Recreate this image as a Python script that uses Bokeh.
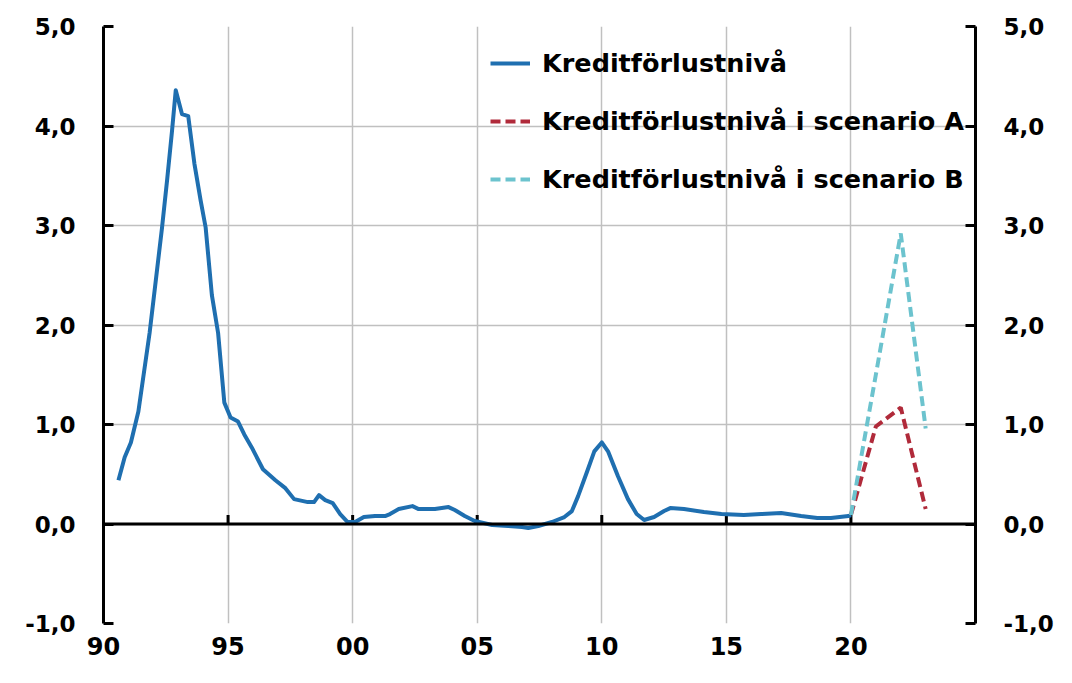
from bokeh.plotting import figure
from bokeh.models import LinearAxis, FixedTicker, Span, Legend, LegendItem, Range1d
from bokeh.embed import file_html
from bokeh.resources import INLINE

# ---- data ----
years = [1990.6, 1990.85, 1991.1, 1991.4, 1991.85, 1992.1, 1992.35, 1992.55, 1992.75, 1992.9,
         1993.15, 1993.4, 1993.65, 1993.9, 1994.1, 1994.35, 1994.6, 1994.85, 1995.1, 1995.4,
         1995.65, 1995.95, 1996.4, 1996.9, 1997.3, 1997.65, 1998.2, 1998.45, 1998.65, 1998.9,
         1999.2, 1999.5, 1999.8, 2000.1, 2000.45, 2000.9, 2001.3, 2001.5, 2001.85, 2002.4,
         2002.65, 2003.3, 2003.85, 2004.1, 2004.5, 2004.9, 2005.6, 2006.25, 2006.8, 2007.05,
         2007.45, 2008.0, 2008.5, 2008.8, 2009.05, 2009.4, 2009.7, 2010.0, 2010.25, 2010.65,
         2011.05, 2011.4, 2011.7, 2012.1, 2012.5, 2012.75, 2013.3, 2014.1, 2014.8, 2015.7,
         2016.4, 2017.2, 2018.0, 2018.65, 2019.2, 2019.9, 2020.0]
loss = [0.44, 0.67, 0.82, 1.13, 1.92, 2.45, 2.98, 3.45, 3.95, 4.36,
        4.12, 4.10, 3.62, 3.25, 2.98, 2.30, 1.92, 1.22, 1.07, 1.03,
        0.90, 0.77, 0.55, 0.44, 0.36, 0.25, 0.22, 0.22, 0.29, 0.24,
        0.21, 0.10, 0.02, 0.02, 0.07, 0.08, 0.08, 0.10, 0.15, 0.18,
        0.15, 0.15, 0.17, 0.14, 0.08, 0.03, -0.01, -0.02, -0.03, -0.04,
        -0.02, 0.02, 0.07, 0.13, 0.28, 0.52, 0.73, 0.82, 0.73, 0.48,
        0.25, 0.10, 0.04, 0.07, 0.13, 0.16, 0.15, 0.12, 0.10, 0.09,
        0.10, 0.11, 0.08, 0.06, 0.06, 0.08, 0.09]

scen_years = [2020, 2021, 2022, 2023]
scen_a = [0.09, 0.98, 1.17, 0.15]
scen_b = [0.09, 1.50, 2.92, 0.96]

series_names = ["Kreditförlustnivå",
                "Kreditförlustnivå i scenario A",
                "Kreditförlustnivå i scenario B"]

x_ticks = [1990, 1995, 2000, 2005, 2010, 2015, 2020]
x_tick_labels = ["90", "95", "00", "05", "10", "15", "20"]
x_grid = [1995, 2000, 2005, 2010, 2015, 2020]
y_ticks = [-1, 0, 1, 2, 3, 4, 5]
y_tick_labels = ["-1,0", "0,0", "1,0", "2,0", "3,0", "4,0", "5,0"]

# ---- styling ----
FONT = "DejaVu Sans"
BLUE = "#1f6fb0"
RED = "#b02a3a"
CYAN = "#6cc3ce"
GRID = "#c0c0c0"

p = figure(width=1056, height=667,
           x_range=Range1d(1990, 2025), y_range=Range1d(-1, 5),
           output_backend="svg", toolbar_location=None,
           min_border_left=103, min_border_right=80,
           min_border_top=26, min_border_bottom=44)
p.outline_line_color = None
p.background_fill_color = "white"
p.border_fill_color = "white"

# grids
p.xgrid.ticker = FixedTicker(ticks=x_grid)
p.ygrid.ticker = FixedTicker(ticks=y_ticks)
for g in (p.xgrid, p.ygrid):
    g.grid_line_color = GRID
    g.grid_line_width = 1.5

# zero line with upward ticks
p.add_layout(Span(location=0, dimension="width", line_color="black", line_width=3))
p.segment(x0=x_ticks, y0=[0] * len(x_ticks), x1=x_ticks, y1=[0.09] * len(x_ticks),
          line_color="black", line_width=3)

# bottom axis (labels only)
xa = p.xaxis[0]
xa.ticker = FixedTicker(ticks=x_ticks)
xa.major_label_overrides = {t: l for t, l in zip(x_ticks, x_tick_labels)}
xa.axis_line_color = None
xa.major_tick_line_color = None
xa.minor_tick_line_color = None
xa.major_tick_in = 0
xa.major_tick_out = 0
xa.major_label_standoff = 13
xa.major_label_text_font = FONT
xa.major_label_text_font_style = "bold"
xa.major_label_text_font_size = "24px"
xa.major_label_text_color = "black"

def style_y(ax):
    ax.ticker = FixedTicker(ticks=y_ticks)
    ax.major_label_overrides = {t: l for t, l in zip(y_ticks, y_tick_labels)}
    ax.axis_line_color = "black"
    ax.axis_line_width = 3
    ax.major_tick_line_color = "black"
    ax.major_tick_line_width = 3
    ax.major_tick_in = 10
    ax.major_tick_out = 0
    ax.minor_tick_line_color = None
    ax.major_label_standoff = 28
    ax.major_label_text_font = FONT
    ax.major_label_text_font_style = "bold"
    ax.major_label_text_font_size = "23px"
    ax.major_label_text_color = "black"

style_y(p.yaxis[0])
ry = LinearAxis()
style_y(ry)
p.add_layout(ry, "right")

# series
r_main = p.line(years, loss, line_color=BLUE, line_width=4, line_join="round")
r_a = p.line(scen_years, scen_a, line_color=RED, line_width=4, line_dash="10 5")
r_b = p.line(scen_years, scen_b, line_color=CYAN, line_width=4, line_dash="10 5")

legend = Legend(items=[LegendItem(label=series_names[0], renderers=[r_main]),
                       LegendItem(label=series_names[1], renderers=[r_a]),
                       LegendItem(label=series_names[2], renderers=[r_b])],
                location=(387, 424))
legend.background_fill_alpha = 0
legend.border_line_color = None
legend.padding = 0
legend.margin = 0
legend.spacing = 18
legend.glyph_width = 40
legend.glyph_height = 40
legend.label_height = 40
legend.label_standoff = 12
legend.label_text_font = FONT
legend.label_text_font_style = "bold"
legend.label_text_font_size = "25.5px"
legend.label_text_color = "black"
p.add_layout(legend, "center")

open("out.html", "w").write(file_html(p, INLINE))
